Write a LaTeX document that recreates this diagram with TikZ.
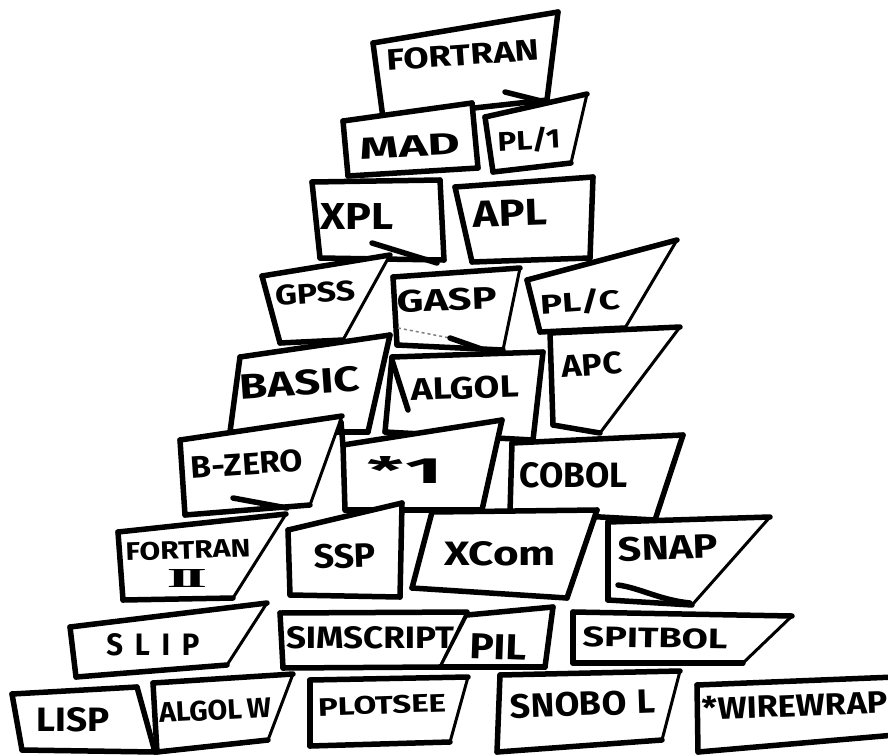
\documentclass[tikz,border=0pt]{standalone}
\usepackage{fontspec}
\setmainfont{Fira Sans}
\newfontfamily\romanfont{Liberation Serif}
\usepackage{graphicx}
\tikzset{
  thk/.style={line width=5.5pt, line cap=round, line join=round},
  thn/.style={line width=3pt, line cap=round, line join=round},
  lbl/.style={inner sep=0pt, font=\bfseries},
}
% #1 TL, #2 TR, #3 BR, #4 BL, #5 left style, #6 right style
\newcommand\brick[6]{%
  \fill[white] #1 -- #2 -- #3 -- #4 -- cycle;
  \draw[thk] #3 -- #4;
  \draw[#5] #4 -- #1;
  \draw[thk] #1 -- #2;
  \draw[#6] #2 -- #3;
}
\newcommand\fitlab[3]{\resizebox{#1pt}{#2pt}{#3}}
\begin{document}
\begin{tikzpicture}[x=1pt,y=-1pt]
\useasboundingbox (0,0) rectangle (888,755);
\fill[white] (0,0) rectangle (888,755);
% row 1
\brick{(373,43)}{(558,12)}{(547,100)}{(383,118)}{thk}{thk}
% row 2
\brick{(343,121)}{(472,103)}{(478,168)}{(348,176)}{thk}{thk}
\brick{(485,117)}{(587,94)}{(571,163)}{(493,172)}{thk}{thn}
% row 3
\brick{(312,182)}{(440,180)}{(444,260)}{(320,258)}{thk}{thk}
\brick{(455,187)}{(593,177)}{(590,258)}{(472,262)}{thk}{thk}
% row 4
\brick{(262,276)}{(390,255)}{(343,340)}{(280,343)}{thk}{thn}
\brick{(393,277)}{(520,268)}{(503,350)}{(397,345)}{thk}{thn}
\brick{(527,280)}{(677,240)}{(625,328)}{(540,332)}{thk}{thn}
% row 5
\brick{(240,357)}{(390,335)}{(368,432)}{(230,432)}{thk}{thk}
\brick{(392,357)}{(543,352)}{(533,440)}{(385,432)}{thk}{thk}
\brick{(550,333)}{(680,327)}{(600,433)}{(553,425)}{thk}{thn}
% row 6
\brick{(180,440)}{(342,416)}{(310,505)}{(185,515)}{thk}{thn}
\brick{(343,445)}{(502,420)}{(482,510)}{(345,510)}{thk}{thk}
\brick{(512,443)}{(683,435)}{(655,520)}{(510,512)}{thk}{thk}
% row 7
\brick{(118,532)}{(286,514)}{(233,598)}{(123,600)}{thk}{thn}
\brick{(288,530)}{(402,503)}{(400,597)}{(290,595)}{thk}{thk}
\brick{(432,512)}{(597,510)}{(567,598)}{(412,588)}{thk}{thk}
\brick{(608,522)}{(770,517)}{(692,605)}{(608,600)}{thk}{thn}
% row 8
\brick{(70,627)}{(267,603)}{(227,665)}{(76,677)}{thk}{thn}
\brick{(280,613)}{(467,612)}{(440,667)}{(283,668)}{thk}{thn}
\brick{(467,615)}{(553,607)}{(545,667)}{(440,667)}{thn}{thk}
\brick{(573,612)}{(792,616)}{(743,663)}{(573,663)}{thk}{thn}
% row 9
\brick{(12,694)}{(137,687)}{(155,752)}{(22,750)}{thk}{thk}
\brick{(153,683)}{(293,674)}{(268,740)}{(157,752)}{thk}{thn}
\brick{(310,680)}{(468,677)}{(450,742)}{(310,746)}{thk}{thn}
\brick{(500,675)}{(680,671)}{(662,740)}{(497,752)}{thk}{thn}
\brick{(697,685)}{(895,677)}{(895,735)}{(698,752)}{thk}{thk}
% extra strokes
\coordinate (s1a) at (505,92);  \coordinate (s1b) at (545,102);
\draw[thk] (s1a) -- (s1b);
\coordinate (s2a) at (372,243); \coordinate (s2b) at (437,263);
\draw[thk] (s2a) -- (s2b);
\coordinate (s3a) at (392,360); \coordinate (s3b) at (408,410);
\draw[thk] (s3a) -- (s3b);
\coordinate (s4a) at (398,328); \coordinate (s4b) at (450,338); \coordinate (s4c) at (490,352);
\draw[line width=1.5pt, dashed, gray] (s4a) -- (s4b);
\draw[thk] (s4b) -- (s4c);
\coordinate (s5a) at (341,422); \coordinate (s5b) at (343,446);
\draw[thk] (s5a) -- (s5b);
\coordinate (s6a) at (233,498); \coordinate (s6b) at (287,508);
\draw[thk] (s6a) -- (s6b);
\coordinate (s7a) at (618,585); \coordinate (s7b) at (690,603);
\draw[thk] (s7a) .. controls (640,588) and (660,600) .. (s7b);
% labels
\node[lbl, rotate=4] (fortran) at (463,55) {\fitlab{153}{21}{FORTRAN}};
\node[lbl, rotate=3] (mad) at (410,146) {\fitlab{100}{21}{MAD}};
\node[lbl, rotate=3] (pl1) at (529,140) {\fitlab{63}{22}{PL/1}};
\node[lbl] (xpl) at (357,216) {\fitlab{73}{26}{XPL}};
\node[lbl, rotate=2] (apl) at (510,213) {\fitlab{74}{26}{APL}};
\node[lbl, rotate=4] (gpss) at (315,293) {\fitlab{80}{20}{GPSS}};
\node[lbl, rotate=2] (gasp) at (447,300) {\fitlab{100}{22}{GASP}};
\node[lbl, rotate=4] (plc) at (580,302) {\fitlab{80}{22}{PL/C}};
\node[lbl, rotate=4] (basic) at (300,383) {\fitlab{120}{25}{BASIC}};
\node[lbl, rotate=2] (algol) at (465,388) {\fitlab{108}{22}{ALGOL}};
\node[lbl, rotate=4] (apc) at (592,365) {\fitlab{60}{22}{APC}};
\node[lbl, rotate=4] (bzero) at (247,464) {\fitlab{112}{22}{B-ZERO}};
\node[lbl] (star1) at (405,470) {\fitlab{75}{27}{*1}};
\node[lbl] (cobol) at (574,475) {\fitlab{108}{25}{COBOL}};
\node[lbl, rotate=2] (fortran2) at (188,550) {\fitlab{125}{18}{FORTRAN}};
\node[inner sep=0pt, font=\romanfont\bfseries] (fortranii) at (187,578) {\fitlab{40}{18}{I\kern-1.2pt I}};
\node[lbl, rotate=2] (ssp) at (345,556) {\fitlab{62}{24}{SSP}};
\node[lbl] (xcom) at (500,554) {\fitlab{112}{24}{XCom}};
\node[lbl, rotate=2] (snap) at (668,548) {\fitlab{100}{24}{SNAP}};
\node[lbl] (slip) at (153,645) {\fitlab{93}{22}{S\kern4pt L\kern4pt I\kern4pt P}};
\node[lbl] (simscript) at (370,638) {\fitlab{168}{22}{SIMSCRIPT}};
\node[lbl, rotate=-2] (pil) at (498,647) {\fitlab{57}{25}{PIL}};
\node[lbl, rotate=-1] (spitbol) at (655,638) {\fitlab{145}{20}{SPITBOL}};
\node[lbl] (lisp) at (73,720) {\fitlab{73}{24}{LISP}};
\node[lbl, rotate=3] (algolw) at (215,710) {\fitlab{112}{20}{ALGOL\,W}};
\node[lbl, rotate=2] (plotsee) at (382,705) {\fitlab{128}{18}{PLOTSEE}};
\node[lbl, rotate=2] (snobol) at (583,704) {\fitlab{145}{24}{SNOBO\kern3pt L}};
\node[lbl, rotate=2] (wirewrap) at (795,705) {\fitlab{185}{23}{*WIREWRAP}};
\end{tikzpicture}
\end{document}
